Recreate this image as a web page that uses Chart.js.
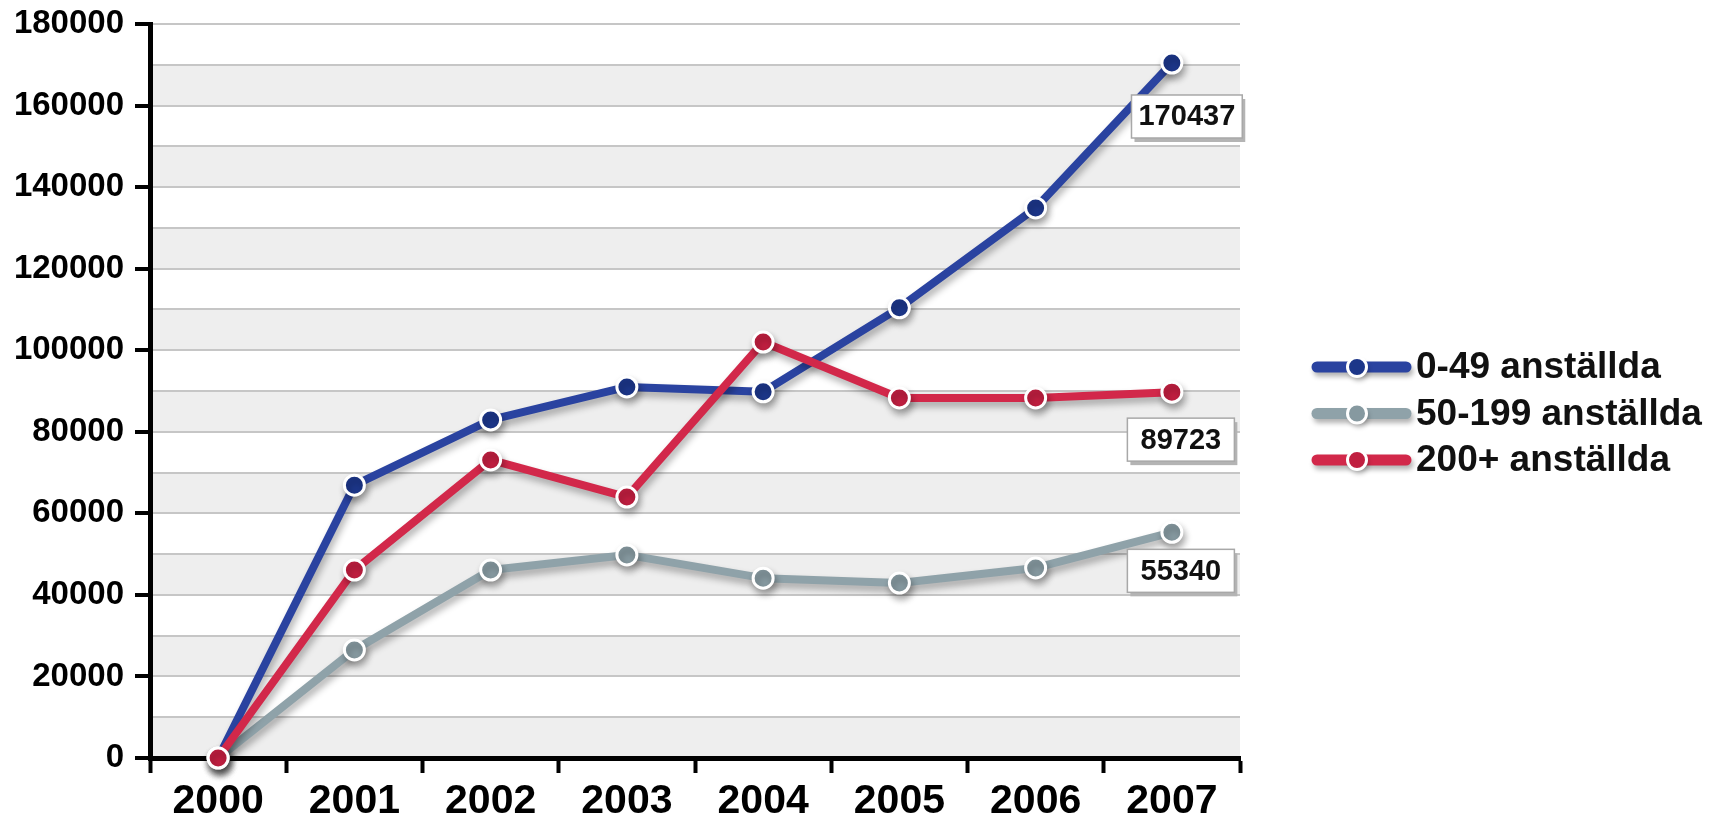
<!DOCTYPE html>
<html>
<head>
<meta charset="utf-8">
<script src="https://cdn.jsdelivr.net/npm/chart.js@4.4.1/dist/chart.umd.min.js"></script>
<style>
html,body{margin:0;padding:0;background:#fff;overflow:hidden;}
#wrap{width:1710px;height:821px;position:relative;}
canvas{display:block;}
</style>
</head>
<body>
<div id="wrap"><canvas id="c" width="1710" height="821"></canvas></div>
<script>
// ---- data ----
const years = ['2000', '2001', '2002', '2003', '2004', '2005', '2006', '2007'];
const small = [0, 66900, 82900, 91000, 89800, 110400, 134900, 170437];   // 0-49 anställda
const medium = [0, 26500, 46100, 49800, 44100, 42900, 46600, 55340];     // 50-199 anställda
const large = [0, 46100, 73100, 64000, 102000, 88300, 88300, 89723];     // 200+ anställda
const seriesNames = ['0-49 anställda', '50-199 anställda', '200+ anställda'];
const yTickLabels = ['0', '20000', '40000', '60000', '80000', '100000', '120000', '140000', '160000', '180000'];

const FONT = "'Liberation Sans', Arial, Helvetica, sans-serif";
Chart.defaults.font.family = FONT;

function series(label, data, line, point, order) {
  return {
    label, data,
    borderColor: line,
    backgroundColor: point,
    pointBackgroundColor: point,
    pointBorderColor: '#ffffff',
    pointBorderWidth: 3,
    pointRadius: 10,
    pointHoverRadius: 10,
    borderWidth: 8,
    tension: 0,
    clip: false,
    order,
    borderJoinStyle: 'round',
    borderCapStyle: 'round'
  };
}

const bandPlugin = {
  id: 'bands',
  beforeDraw(chart) {
    const ctx = chart.ctx, y = chart.scales.y, a = chart.chartArea;
    ctx.save();
    ctx.fillStyle = '#ffffff';
    ctx.fillRect(0, 0, chart.width, chart.height);
    ctx.fillStyle = '#eeeeee';
    const ticks = y.ticks;
    for (let i = 0; i < ticks.length - 1; i++) {
      if (yTickLabels.includes(String(ticks[i].value))) {
        const y0 = y.getPixelForValue(ticks[i].value);
        const y1 = y.getPixelForValue(ticks[i + 1].value);
        ctx.fillRect(a.left, y1, a.right - a.left, y0 - y1);
      }
    }
    ctx.restore();
  }
};

const shadowPlugin = {
  id: 'lineShadow',
  beforeDatasetDraw(chart) {
    const ctx = chart.ctx;
    ctx.save();
    ctx.shadowColor = 'rgba(0,0,0,0.3)';
    ctx.shadowBlur = 7;
    ctx.shadowOffsetX = 2;
    ctx.shadowOffsetY = 5;
  },
  afterDatasetDraw(chart) {
    chart.ctx.restore();
  }
};

const endLabelPlugin = {
  id: 'endLabels',
  afterDatasetsDraw(chart, args, opts) {
    const ctx = chart.ctx;
    chart.data.datasets.forEach((d, i) => {
      const meta = chart.getDatasetMeta(i);
      const last = meta.data[meta.data.length - 1];
      const value = d.data[d.data.length - 1];
      const off = opts.offsets[i];
      const text = String(value);
      ctx.save();
      ctx.font = 'bold 29px ' + FONT;
      const tw = ctx.measureText(text).width;
      const w = Math.max(tw + 14, 107), h = 43;
      const cx = last.x + off.dx;
      const left = cx - w / 2, top = last.y + off.dy;
      ctx.fillStyle = '#b4b4b4';
      ctx.fillRect(left + 3, top + 4, w, h);
      ctx.fillStyle = '#ffffff';
      ctx.fillRect(left, top, w, h);
      ctx.strokeStyle = '#a8a8a8';
      ctx.lineWidth = 1.5;
      ctx.strokeRect(left, top, w, h);
      ctx.fillStyle = '#111111';
      ctx.textAlign = 'center';
      ctx.textBaseline = 'middle';
      ctx.fillText(text, cx, top + h / 2 + 1);
      ctx.restore();
    });
  }
};

const legendPlugin = {
  id: 'customLegend',
  afterDraw(chart, args, opts) {
    const ctx = chart.ctx;
    const a = chart.chartArea;
    chart.data.datasets.forEach((d, i) => {
      const y = opts.top + i * opts.rowGap;
      const x0 = a.right + opts.gap;
      ctx.save();
      ctx.shadowColor = 'rgba(0,0,0,0.3)';
      ctx.shadowBlur = 5;
      ctx.shadowOffsetX = 2;
      ctx.shadowOffsetY = 4;
      ctx.strokeStyle = d.borderColor;
      ctx.lineWidth = 11;
      ctx.lineCap = 'round';
      ctx.beginPath();
      ctx.moveTo(x0 + 4, y);
      ctx.lineTo(x0 + opts.symbolWidth - 4, y);
      ctx.stroke();
      ctx.beginPath();
      ctx.arc(x0 + 44, y, 9.5, 0, Math.PI * 2);
      ctx.fillStyle = d.pointBackgroundColor;
      ctx.fill();
      ctx.shadowColor = 'transparent';
      ctx.lineWidth = 3;
      ctx.strokeStyle = '#ffffff';
      ctx.stroke();
      ctx.restore();
      ctx.save();
      ctx.font = 'bold 37px ' + FONT;
      ctx.fillStyle = '#111111';
      ctx.textAlign = 'left';
      ctx.textBaseline = 'middle';
      ctx.fillText(d.label, x0 + opts.symbolWidth + 6, y + 1);
      ctx.restore();
    });
  }
};

new Chart(document.getElementById('c'), {
  type: 'line',
  data: {
    labels: years,
    datasets: [
      series(seriesNames[0], small, '#2a43a0', '#1c3689', 1),
      series(seriesNames[1], medium, '#8fa2a9', '#8699a0', 2),
      series(seriesNames[2], large, '#d2284a', '#c01f40', 0)
    ]
  },
  options: {
    responsive: false,
    devicePixelRatio: 1,
    animation: false,
    events: [],
    layout: { padding: { top: 24, right: 470, left: 0, bottom: 0 } },
    plugins: {
      legend: { display: false },
      tooltip: { enabled: false },
      endLabels: { offsets: [{ dx: 15, dy: 32 }, { dx: 9, dy: 17 }, { dx: 9, dy: 26 }] },
      customLegend: { top: 367, rowGap: 46.5, gap: 73, symbolWidth: 97 }
    },
    scales: {
      x: {
        type: 'category',
        offset: true,
        grid: {
          offset: true,
          drawOnChartArea: false,
          drawTicks: true,
          tickLength: 15,
          tickWidth: 4,
          tickColor: '#000000'
        },
        border: { display: true, color: '#000000', width: 5 },
        ticks: {
          font: { size: 41, weight: 'bold' },
          color: '#000000',
          padding: 4,
          maxRotation: 0,
          autoSkip: false
        },
        afterFit(s) { s.height = 63; }
      },
      y: {
        min: 0,
        max: 180000,
        ticks: {
          stepSize: 10000,
          autoSkip: false,
          callback: (v) => yTickLabels.includes(String(v)) ? String(v) : '',
          font: { size: 33, weight: 'bold' },
          color: '#000000',
          padding: 11
        },
        grid: {
          color: '#c6c6c6',
          lineWidth: 2,
          tickLength: 15,
          tickWidth: 4,
          tickColor: (c) => (c.tick && yTickLabels.includes(String(c.tick.value))) ? '#000000' : 'rgba(0,0,0,0)'
        },
        border: { display: true, color: '#000000', width: 5 },
        afterFit(s) { s.width = 150; s.paddingTop = 10; s.paddingBottom = 10; }
      }
    }
  },
  plugins: [bandPlugin, shadowPlugin, endLabelPlugin, legendPlugin]
});
</script>
</body>
</html>
